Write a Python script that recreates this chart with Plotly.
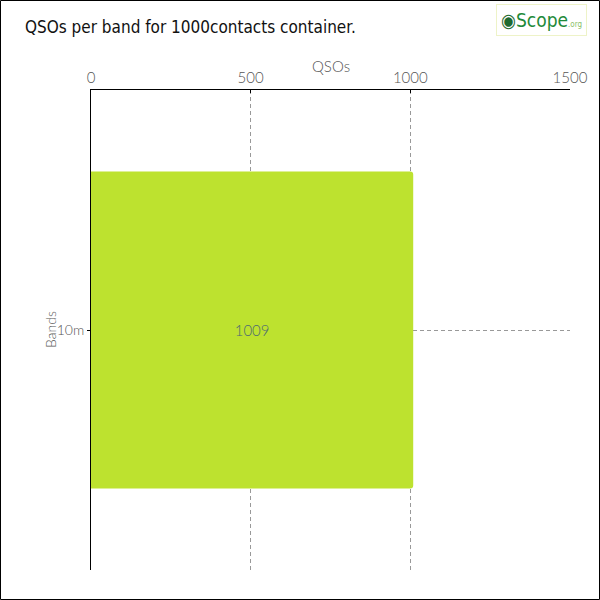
import plotly.graph_objects as go

bands = ["10m"]
qsos = [1009]
x_ticks = [0, 500, 1000, 1500]

W, H = 600, 600
ml, mr, mt, mb = 91, 30, 90, 30
pw, ph = W - ml - mr, H - mt - mb

light = dict(family="Lato", size=14, color="#555", weight=300)

fig = go.Figure(go.Bar(
    x=qsos, y=bands, orientation="h",
    marker=dict(color="#bde22f", line=dict(width=0)),
    width=0.66,
    text=[str(v) for v in qsos], textposition="inside", insidetextanchor="middle",
    textfont=dict(family="Lato", size=15, color="#4d6a73", weight=300),
    hoverinfo="skip",
))

fig.update_layout(
    width=W, height=H,
    margin=dict(l=ml, r=mr, t=mt, b=mb),
    paper_bgcolor="white", plot_bgcolor="white",
    barcornerradius=3,
    showlegend=False,
    title=dict(text="QSOs per band for 1000contacts container.",
               x=25 / W, xanchor="left", y=1 - 27 / H, yanchor="middle",
               font=dict(family="DejaVu Sans Condensed, Lato", size=17, color="#111")),
    xaxis=dict(side="top", range=[0, 1500], tickvals=x_ticks,
               showline=True, linecolor="black", linewidth=1,
               ticks="inside", ticklen=3, tickcolor="black",
               showgrid=True, gridcolor="#999", griddash="4px,3px", gridwidth=1,
               zeroline=False, tickfont=dict(light, size=15)),
    yaxis=dict(showline=True, linecolor="black", linewidth=1,
               ticks="outside", ticklen=3, tickcolor="black",
               showgrid=True, gridcolor="#999", griddash="4px,3px", gridwidth=1,
               tickfont=light),
    shapes=[dict(type="rect", xref="paper", yref="paper",
                 x0=-(ml - 0.5) / pw, x1=1 + (mr - 0.5) / pw,
                 y0=-(mb - 0.5) / ph, y1=1 + (mt - 0.5) / ph,
                 line=dict(color="black", width=1), layer="above")],
    annotations=[
        dict(xref="paper", yref="paper", x=0.5, y=1 + (mt - 66) / ph,
             xanchor="center", yanchor="middle", text="QSOs", showarrow=False,
             font=dict(light, size=15)),
        dict(xref="paper", yref="paper", x=-(ml - 50) / pw, y=0.5,
             xanchor="center", yanchor="middle", text="Bands", showarrow=False,
             textangle=-90, font=light),
        dict(xref="paper", yref="paper",
             x=1 + (mr - 13) / pw, y=1 + (mt - 20) / ph,
             xanchor="right", yanchor="middle",
             text="<b>◉</b><span style='color:#1e8a3a'>Scope</span><span style='font-size:8px;color:#8bbf6a'>.org</span>",
             showarrow=False,
             font=dict(family="DejaVu Sans Condensed, Roboto", size=19, color="#1e6a30"),
             bordercolor="#eef3c8", borderwidth=1, borderpad=4, bgcolor="white")],
)

fig.write_html("out.html", config={"displayModeBar": False},
               post_script="document.body.style.margin='0';")
